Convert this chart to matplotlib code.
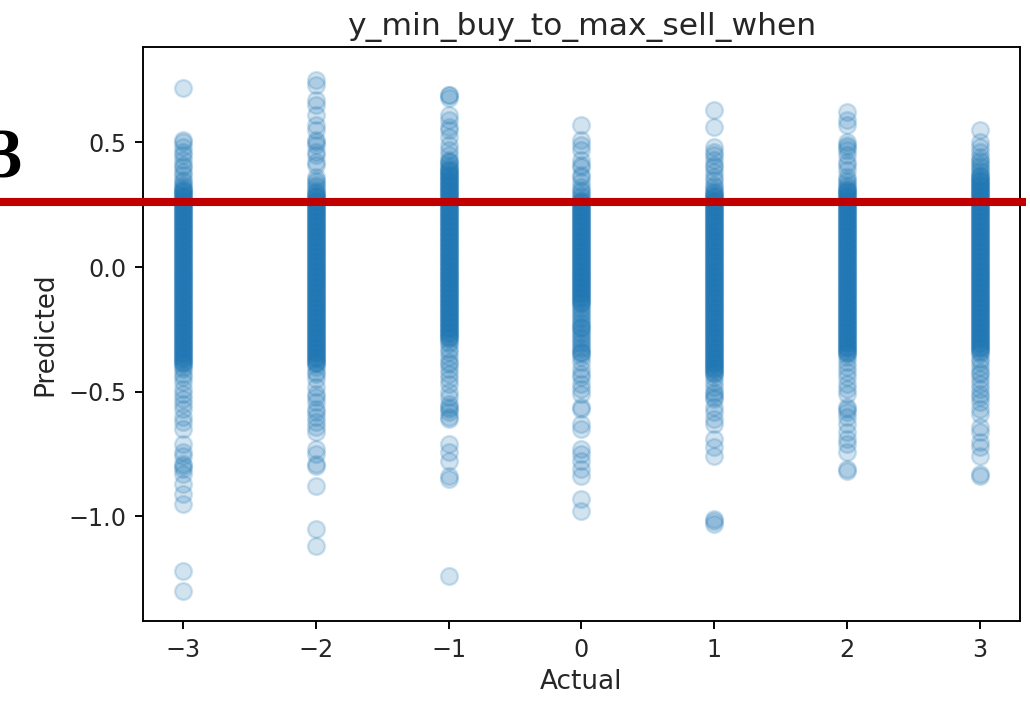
import matplotlib
matplotlib.use("Agg")
import matplotlib.pyplot as plt
from matplotlib.lines import Line2D
import numpy as np

# actual class labels on the x axis
actual = [-3, -2, -1, 0, 1, 2, 3]

# model predictions grouped by actual class
pred_m3 = [0.72, 0.51, 0.50, 0.48, 0.46, 0.45, 0.43, 0.41, 0.40, 0.38, 0.37, 0.35, 0.34, 0.33,
           0.32, 0.315, 0.31, 0.305, 0.30, 0.295, 0.29, 0.285, 0.28, 0.275,
           0.27, 0.265, 0.26, 0.255, 0.25, 0.245, 0.24, 0.235, 0.23, 0.225,
           0.22, 0.215, 0.21, 0.205, 0.20, 0.195, 0.19, 0.185, 0.18, 0.175,
           0.17, 0.165, 0.16, 0.155, 0.15, 0.145, 0.14, 0.135, 0.13, 0.125,
           0.12, 0.115, 0.11, 0.105, 0.10, 0.095, 0.09, 0.085, 0.08, 0.075,
           0.07, 0.065, 0.06, 0.055, 0.05, 0.045, 0.04, 0.035, 0.03, 0.025,
           0.02, 0.015, 0.01, 0.005, 0.00, -0.005, -0.01, -0.015, -0.02, -0.025,
           -0.03, -0.035, -0.04, -0.045, -0.05, -0.055, -0.06, -0.065, -0.07, -0.075,
           -0.08, -0.085, -0.09, -0.095, -0.10, -0.105, -0.11, -0.115, -0.12, -0.125,
           -0.13, -0.135, -0.14, -0.145, -0.15, -0.155, -0.16, -0.165, -0.17, -0.175,
           -0.18, -0.185, -0.19, -0.195, -0.20, -0.205, -0.21, -0.215, -0.22, -0.225,
           -0.23, -0.235, -0.24, -0.245, -0.25, -0.255, -0.26, -0.265, -0.27, -0.275,
           -0.28, -0.285, -0.29, -0.295, -0.30, -0.305, -0.31, -0.315, -0.32, -0.325,
           -0.33, -0.335, -0.34, -0.345, -0.35, -0.355, -0.36, -0.365, -0.37, -0.375,
           -0.38, -0.385, -0.39,
           -0.40, -0.41, -0.43, -0.44, -0.46, -0.49, -0.51, -0.53, -0.55, -0.57, -0.60,
           -0.62, -0.65, -0.71, -0.74, -0.76, -0.79, -0.80, -0.81, -0.83, -0.87, -0.91,
           -0.95, -1.22, -1.30]

pred_m2 = [0.75, 0.73, 0.67, 0.65, 0.61, 0.57, 0.55, 0.51, 0.50, 0.49, 0.46, 0.45, 0.42,
           0.41, 0.36, 0.35, 0.34, 0.33, 0.32, 0.31,
           0.30, 0.295, 0.29, 0.285, 0.28, 0.275,
           0.27, 0.265, 0.26, 0.255, 0.25, 0.245, 0.24, 0.235, 0.23, 0.225,
           0.22, 0.215, 0.21, 0.205, 0.20, 0.195, 0.19, 0.185, 0.18, 0.175,
           0.17, 0.165, 0.16, 0.155, 0.15, 0.145, 0.14, 0.135, 0.13, 0.125,
           0.12, 0.115, 0.11, 0.105, 0.10, 0.095, 0.09, 0.085, 0.08, 0.075,
           0.07, 0.065, 0.06, 0.055, 0.05, 0.045, 0.04, 0.035, 0.03, 0.025,
           0.02, 0.015, 0.01, 0.005, 0.00, -0.005, -0.01, -0.015, -0.02, -0.025,
           -0.03, -0.035, -0.04, -0.045, -0.05, -0.055, -0.06, -0.065, -0.07, -0.075,
           -0.08, -0.085, -0.09, -0.095, -0.10, -0.105, -0.11, -0.115, -0.12, -0.125,
           -0.13, -0.135, -0.14, -0.145, -0.15, -0.155, -0.16, -0.165, -0.17, -0.175,
           -0.18, -0.185, -0.19, -0.195, -0.20, -0.205, -0.21, -0.215, -0.22, -0.225,
           -0.23, -0.235, -0.24, -0.245, -0.25, -0.255, -0.26, -0.265, -0.27, -0.275,
           -0.28, -0.285, -0.29, -0.295, -0.30, -0.305, -0.31, -0.315, -0.32, -0.325,
           -0.33, -0.335, -0.34, -0.345, -0.35, -0.355, -0.36, -0.365, -0.37, -0.375,
           -0.38, -0.385, -0.39,
           -0.40, -0.42, -0.43, -0.45, -0.48, -0.51, -0.52, -0.54, -0.57, -0.58, -0.60,
           -0.62, -0.64, -0.66, -0.73, -0.75, -0.79, -0.80, -0.88, -1.05, -1.12]

pred_m1 = [0.69, 0.69, 0.68, 0.61, 0.59, 0.56, 0.55, 0.52, 0.49, 0.47, 0.45, 0.43, 0.42,
           0.42, 0.41,
           0.40, 0.395, 0.39, 0.385, 0.38, 0.375, 0.37, 0.365, 0.36, 0.355,
           0.35, 0.345, 0.34, 0.335, 0.33, 0.325, 0.32, 0.315, 0.31, 0.305,
           0.30, 0.295, 0.29, 0.285, 0.28, 0.275,
           0.27, 0.265, 0.26, 0.255, 0.25, 0.245, 0.24, 0.235, 0.23, 0.225,
           0.22, 0.215, 0.21, 0.205, 0.20, 0.195, 0.19, 0.185, 0.18, 0.175,
           0.17, 0.165, 0.16, 0.155, 0.15, 0.145, 0.14, 0.135, 0.13, 0.125,
           0.12, 0.115, 0.11, 0.105, 0.10, 0.095, 0.09, 0.085, 0.08, 0.075,
           0.07, 0.065, 0.06, 0.055, 0.05, 0.045, 0.04, 0.035, 0.03, 0.025,
           0.02, 0.015, 0.01, 0.005, 0.00, -0.005, -0.01, -0.015, -0.02, -0.025,
           -0.03, -0.035, -0.04, -0.045, -0.05, -0.055, -0.06, -0.065, -0.07, -0.075,
           -0.08, -0.085, -0.09, -0.095, -0.10, -0.105, -0.11, -0.115, -0.12, -0.125,
           -0.13, -0.135, -0.14, -0.145, -0.15, -0.155, -0.16, -0.165, -0.17, -0.175,
           -0.18, -0.185, -0.19, -0.195, -0.20, -0.205, -0.21, -0.215, -0.22, -0.225,
           -0.23, -0.235, -0.24, -0.245, -0.25, -0.255, -0.26, -0.265, -0.27, -0.275,
           -0.28, -0.285, -0.29,
           -0.30, -0.31, -0.33, -0.34, -0.36, -0.38, -0.39, -0.41, -0.43, -0.45, -0.47,
           -0.50, -0.52, -0.55, -0.56, -0.57, -0.58, -0.60, -0.61, -0.71, -0.74, -0.78,
           -0.84, -0.85, -1.24]

pred_0 = [0.57, 0.51, 0.49, 0.47, 0.43, 0.41, 0.40, 0.37, 0.36, 0.34, 0.32, 0.31, 0.30,
          0.29, 0.28,
          0.27, 0.265, 0.26, 0.255, 0.25, 0.245, 0.24, 0.235, 0.23, 0.225,
          0.22, 0.215, 0.21, 0.205, 0.20, 0.195, 0.19, 0.185, 0.18, 0.175,
          0.17, 0.165, 0.16, 0.155, 0.15, 0.145, 0.14, 0.135, 0.13, 0.125,
          0.12, 0.115, 0.11, 0.105, 0.10, 0.095, 0.09, 0.085, 0.08, 0.075,
          0.07, 0.065, 0.06, 0.055, 0.05, 0.045, 0.04, 0.035, 0.03, 0.025,
          0.02, 0.015, 0.01, 0.005, 0.00, -0.005, -0.01, -0.015, -0.02, -0.025,
          -0.03, -0.035, -0.04, -0.045, -0.05, -0.055, -0.06, -0.065, -0.07, -0.075,
          -0.08, -0.085, -0.09, -0.095, -0.10, -0.105, -0.11, -0.115, -0.12, -0.125,
          -0.13, -0.135, -0.14, -0.145, -0.15,
          -0.16, -0.17, -0.18, -0.19, -0.20, -0.21, -0.22, -0.23, -0.24, -0.24, -0.25,
          -0.26, -0.27, -0.28, -0.29, -0.30, -0.31, -0.32, -0.33, -0.34, -0.34, -0.35,
          -0.36, -0.38, -0.41, -0.43, -0.44, -0.47, -0.49, -0.51, -0.56, -0.57, -0.63,
          -0.65, -0.73, -0.75, -0.78, -0.81, -0.84, -0.93, -0.98]

pred_1 = [0.63, 0.56, 0.48, 0.46, 0.45, 0.43, 0.41, 0.40, 0.38, 0.36, 0.35, 0.33, 0.32,
          0.31,
          0.30, 0.295, 0.29, 0.285, 0.28, 0.275,
          0.27, 0.265, 0.26, 0.255, 0.25, 0.245, 0.24, 0.235, 0.23, 0.225,
          0.22, 0.215, 0.21, 0.205, 0.20, 0.195, 0.19, 0.185, 0.18, 0.175,
          0.17, 0.165, 0.16, 0.155, 0.15, 0.145, 0.14, 0.135, 0.13, 0.125,
          0.12, 0.115, 0.11, 0.105, 0.10, 0.095, 0.09, 0.085, 0.08, 0.075,
          0.07, 0.065, 0.06, 0.055, 0.05, 0.045, 0.04, 0.035, 0.03, 0.025,
          0.02, 0.015, 0.01, 0.005, 0.00, -0.005, -0.01, -0.015, -0.02, -0.025,
          -0.03, -0.035, -0.04, -0.045, -0.05, -0.055, -0.06, -0.065, -0.07, -0.075,
          -0.08, -0.085, -0.09, -0.095, -0.10, -0.105, -0.11, -0.115, -0.12, -0.125,
          -0.13, -0.135, -0.14, -0.145, -0.15, -0.155, -0.16, -0.165, -0.17, -0.175,
          -0.18, -0.185, -0.19, -0.195, -0.20, -0.205, -0.21, -0.215, -0.22, -0.225,
          -0.23, -0.235, -0.24, -0.245, -0.25, -0.255, -0.26, -0.265, -0.27, -0.275,
          -0.28, -0.285, -0.29, -0.295, -0.30, -0.305, -0.31, -0.315, -0.32, -0.325,
          -0.33, -0.335, -0.34, -0.345, -0.35, -0.355, -0.36, -0.365, -0.37, -0.375,
          -0.38, -0.385, -0.39, -0.395, -0.40, -0.405, -0.41, -0.415, -0.42, -0.425,
          -0.43,
          -0.44, -0.46, -0.48, -0.50, -0.51, -0.52, -0.53, -0.56, -0.58, -0.61, -0.63,
          -0.69, -0.72, -0.76, -1.01, -1.02, -1.03]

pred_2 = [0.62, 0.59, 0.57, 0.50, 0.49, 0.48, 0.47, 0.45, 0.42, 0.41, 0.39, 0.36, 0.35,
          0.34, 0.33,
          0.32, 0.315, 0.31, 0.305, 0.30, 0.295, 0.29, 0.285, 0.28, 0.275,
          0.27, 0.265, 0.26, 0.255, 0.25, 0.245, 0.24, 0.235, 0.23, 0.225,
          0.22, 0.215, 0.21, 0.205, 0.20, 0.195, 0.19, 0.185, 0.18, 0.175,
          0.17, 0.165, 0.16, 0.155, 0.15, 0.145, 0.14, 0.135, 0.13, 0.125,
          0.12, 0.115, 0.11, 0.105, 0.10, 0.095, 0.09, 0.085, 0.08, 0.075,
          0.07, 0.065, 0.06, 0.055, 0.05, 0.045, 0.04, 0.035, 0.03, 0.025,
          0.02, 0.015, 0.01, 0.005, 0.00, -0.005, -0.01, -0.015, -0.02, -0.025,
          -0.03, -0.035, -0.04, -0.045, -0.05, -0.055, -0.06, -0.065, -0.07, -0.075,
          -0.08, -0.085, -0.09, -0.095, -0.10, -0.105, -0.11, -0.115, -0.12, -0.125,
          -0.13, -0.135, -0.14, -0.145, -0.15, -0.155, -0.16, -0.165, -0.17, -0.175,
          -0.18, -0.185, -0.19, -0.195, -0.20, -0.205, -0.21, -0.215, -0.22, -0.225,
          -0.23, -0.235, -0.24, -0.245, -0.25, -0.255, -0.26, -0.265, -0.27, -0.275,
          -0.28, -0.285, -0.29, -0.295, -0.30, -0.305, -0.31, -0.315, -0.32, -0.325,
          -0.33, -0.335, -0.34, -0.345, -0.35,
          -0.36, -0.38, -0.40, -0.42, -0.44, -0.47, -0.49, -0.51, -0.56, -0.57, -0.58,
          -0.60, -0.63, -0.66, -0.69, -0.71, -0.74, -0.81, -0.82]

pred_3 = [0.55, 0.50, 0.48, 0.46, 0.44, 0.43, 0.42, 0.41, 0.40, 0.39, 0.38,
          0.37, 0.365, 0.36, 0.355, 0.35, 0.345, 0.34, 0.335, 0.33, 0.325,
          0.32, 0.315, 0.31, 0.305, 0.30, 0.295, 0.29, 0.285, 0.28, 0.275,
          0.27, 0.265, 0.26, 0.255, 0.25, 0.245, 0.24, 0.235, 0.23, 0.225,
          0.22, 0.215, 0.21, 0.205, 0.20, 0.195, 0.19, 0.185, 0.18, 0.175,
          0.17, 0.165, 0.16, 0.155, 0.15, 0.145, 0.14, 0.135, 0.13, 0.125,
          0.12, 0.115, 0.11, 0.105, 0.10, 0.095, 0.09, 0.085, 0.08, 0.075,
          0.07, 0.065, 0.06, 0.055, 0.05, 0.045, 0.04, 0.035, 0.03, 0.025,
          0.02, 0.015, 0.01, 0.005, 0.00, -0.005, -0.01, -0.015, -0.02, -0.025,
          -0.03, -0.035, -0.04, -0.045, -0.05, -0.055, -0.06, -0.065, -0.07, -0.075,
          -0.08, -0.085, -0.09, -0.095, -0.10, -0.105, -0.11, -0.115, -0.12, -0.125,
          -0.13, -0.135, -0.14, -0.145, -0.15, -0.155, -0.16, -0.165, -0.17, -0.175,
          -0.18, -0.185, -0.19, -0.195, -0.20, -0.205, -0.21, -0.215, -0.22, -0.225,
          -0.23, -0.235, -0.24, -0.245, -0.25, -0.255, -0.26, -0.265, -0.27, -0.275,
          -0.28, -0.285, -0.29, -0.295, -0.30, -0.305, -0.31, -0.315, -0.32, -0.325,
          -0.33, -0.335, -0.34,
          -0.35, -0.37, -0.38, -0.40, -0.42, -0.43, -0.45, -0.47, -0.49, -0.51, -0.52,
          -0.54, -0.57, -0.59, -0.64, -0.66, -0.70, -0.72, -0.76, -0.83, -0.84]

predicted = [pred_m3, pred_m2, pred_m1, pred_0, pred_1, pred_2, pred_3]

# threshold marked across the figure
threshold = 0.26
marker_label = "3"

DPI = 171.5
fig = plt.figure(figsize=(1030 / DPI, 701 / DPI), dpi=DPI)
ax = fig.add_axes([0.1388, 0.1141, 0.8515, 0.8188])

for a, ys in zip(actual, predicted):
    ax.scatter(np.full(len(ys), a), ys, s=50, alpha=0.2, color="#1f77b4")

ax.set_xlim(-3.3, 3.3)
ax.set_ylim(-1.42, 0.8825)
ax.set_xticks(actual)
ax.set_yticks([-1.0, -0.5, 0.0, 0.5])
ax.tick_params(labelcolor="#262626")
ax.set_xlabel("Actual", fontsize=11, color="#262626", labelpad=3)
ax.set_ylabel("Predicted", fontsize=11, color="#262626")
ax.set_title("y_min_buy_to_max_sell_when", fontsize=13.2, color="#262626", pad=5)

# red line spanning the whole figure width at the threshold height
fig.canvas.draw()
y_fig = fig.transFigure.inverted().transform(ax.transData.transform((0, threshold)))[1]
fig.add_artist(Line2D([0.0, 1026 / 1030], [y_fig, y_fig], transform=fig.transFigure,
                      color="#c00000", lw=3.4, solid_capstyle="butt"))
fig.text(22 / 1030, 1 - 177 / 701, marker_label, ha="right", va="baseline",
         fontsize=29, family="Liberation Serif", fontweight="bold")

fig.savefig("out.png", dpi=DPI)
